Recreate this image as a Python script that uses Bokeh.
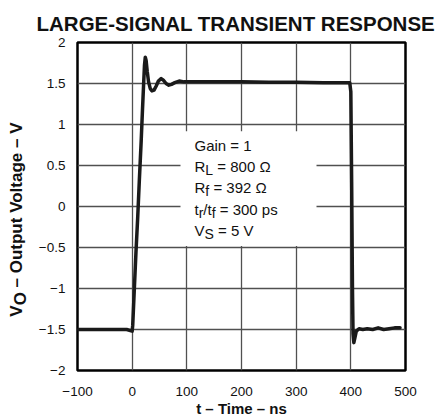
import math
from bokeh.plotting import figure
from bokeh.layouts import row
from bokeh.models import FixedTicker, BoxAnnotation, ColumnDataSource, Range1d
from bokeh.embed import file_html
from bokeh.resources import INLINE
from bokeh.core.properties import value

# ---------------- data ----------------
title_text = "LARGE-SIGNAL TRANSIENT RESPONSE"
x_label_text = "t – Time – ns"
y_label_parts = [("V", False), ("O", True), (" – Output Voltage – V", False)]

x_ticks = [-100, 0, 100, 200, 300, 400, 500]
x_tick_labels = ["−100", "0", "100", "200", "300", "400", "500"]
y_ticks = [-2, -1.5, -1, -0.5, 0, 0.5, 1, 1.5, 2]
y_tick_labels = ["−2", "−1.5", "−1", "−0.5", "0", "0.5", "1", "1.5", "2"]

time_ns = [-100, -50, -10, 0, 1, 4, 7, 10, 13, 16.5, 19, 21, 22.5, 24, 25.5,
           27.5, 30, 33, 36, 40, 44, 48, 53, 57, 62, 67, 72, 78, 86, 95, 110,
           150, 200, 250, 300, 350, 390, 398, 400, 401.5, 403, 404, 405.5,
           407.5, 410, 415, 422, 430, 440, 450, 460, 470, 480, 490]
vout = [-1.5, -1.5, -1.5, -1.52, -1.45, -1.0, -0.55, -0.15, 0.3, 0.8, 1.2,
        1.5, 1.72, 1.82, 1.78, 1.65, 1.52, 1.44, 1.41, 1.42, 1.47, 1.53, 1.56,
        1.54, 1.50, 1.48, 1.49, 1.51, 1.53, 1.52, 1.52, 1.52, 1.52, 1.515,
        1.515, 1.51, 1.51, 1.51, 1.4, 0.3, -1.0, -1.55, -1.66, -1.6, -1.52,
        -1.49, -1.5, -1.49, -1.5, -1.48, -1.5, -1.49, -1.48, -1.48]

# conditions box: list of lines, each a list of (text, is_subscript)
conditions = [
    [("Gain = 1", False)],
    [("R", False), ("L", True), (" = 800 Ω", False)],
    [("R", False), ("f", True), (" = 392 Ω", False)],
    [("t", False), ("r", True), ("/t", False), ("f", True), (" = 300 ps", False)],
    [("V", False), ("S", True), (" = 5 V", False)],
]

# ---------------- styling / layout ----------------
FONT = "Liberation Sans"
MAIN_PX = 15
SUB_PX = 14
LINE_STEP_PX = 21.3
TEXT_COLOR = "#111111"

PAGE_W, PAGE_H = 437, 419
LABEL_W = 30                      # width of the strip holding the y label
X0, X1, Y0, Y1 = -100, 500, -2, 2
FRAME_W, FRAME_H = 328, 329
BL, BR, BT, BB = 77, 32, 42, 48   # page-pixel borders around the frame
DX = (X1 - X0) / FRAME_W
DY = (Y1 - Y0) / FRAME_H

ARIAL = {'G': 778, 'a': 556, 'i': 222, 'n': 556, ' ': 278, '=': 584, '1': 556,
         'R': 722, 'L': 556, '8': 556, '0': 556, 'Ω': 768, 'f': 278, '3': 556,
         '9': 556, '2': 556, 't': 278, 'r': 333, '/': 278, 'p': 556, 's': 500,
         'V': 667, 'S': 667, '5': 556, 'O': 778}
ARIAL_BOLD = {'V': 667, 'O': 778, ' ': 278, '–': 556, 'u': 611, 't': 333,
              'p': 611, 'o': 611, 'l': 278, 'a': 556, 'g': 611, 'e': 556}


def text_w(s, px, table=ARIAL):
    return sum(table.get(c, 556) for c in s) * px / 1000.0


def px_x(px):   # page pixel x -> data x
    return X0 + (px - BL) * DX


def px_y(py):   # page pixel y -> data y
    return Y1 - (py - BT) * DY


H = BT + FRAME_H + BB

p = figure(width=PAGE_W - LABEL_W, height=H,
           x_range=(X0, X1), y_range=(Y0, Y1),
           output_backend="svg", toolbar_location=None,
           min_border_left=BL - LABEL_W, min_border_right=BR,
           min_border_top=BT, min_border_bottom=BB,
           background_fill_color="white", border_fill_color="white")

p.outline_line_color = "black"
p.outline_line_width = 2.5

# title
p.title.text = title_text
p.title.text_font = FONT
p.title.text_font_size = "20.5px"
p.title.text_font_style = "bold"
p.title.text_color = TEXT_COLOR
p.title.align = "left"
p.title.offset = 36 - BL
p.title.standoff = 16

for ax in (p.xaxis[0], p.yaxis[0]):
    ax.axis_line_color = None
    ax.major_tick_line_color = None
    ax.minor_tick_line_color = None
    ax.major_label_text_font = FONT
    ax.major_label_text_font_size = "13.5px"
    ax.major_label_text_color = TEXT_COLOR

p.xaxis.ticker = FixedTicker(ticks=x_ticks)
p.xaxis.major_label_overrides = {t: l for t, l in zip(x_ticks, x_tick_labels)}
p.xaxis.major_label_standoff = 10
p.xaxis.axis_label = x_label_text
p.xaxis.axis_label_text_font = FONT
p.xaxis.axis_label_text_font_size = "15px"
p.xaxis.axis_label_text_font_style = "bold"
p.xaxis.axis_label_text_color = TEXT_COLOR
p.xaxis.axis_label_standoff = 1

p.yaxis.ticker = FixedTicker(ticks=y_ticks)
p.yaxis.major_label_overrides = {t: l for t, l in zip(y_ticks, y_tick_labels)}
p.yaxis.major_label_standoff = 6

p.xgrid.ticker = FixedTicker(ticks=x_ticks)
p.ygrid.ticker = FixedTicker(ticks=y_ticks)
for g in (p.xgrid[0], p.ygrid[0]):
    g.grid_line_color = "#505050"
    g.grid_line_width = 1.3

# white box behind the conditions text (hides grid lines)
box = BoxAnnotation(left=px_x(180), right=px_x(316), bottom=px_y(246),
                    top=px_y(131), fill_color="white", fill_alpha=1.0,
                    line_color=None, level="underlay")
p.add_layout(box)

# waveform
p.line(time_ns, vout, line_width=3.5, line_color="#1a1a1a",
       line_join="round", line_cap="round")

# conditions text
anchor_x, anchor_y = px_x(194), px_y(145)
main = dict(x=[], y=[], text=[], xo=[], yo=[])
sub = dict(x=[], y=[], text=[], xo=[], yo=[])
for i, line in enumerate(conditions):
    xo = 0.0
    for txt, is_sub in line:
        px = SUB_PX if is_sub else MAIN_PX
        stripped = txt.lstrip(" ")
        lead = len(txt) - len(stripped)
        xo += lead * text_w(" ", px)
        d = sub if is_sub else main
        d["x"].append(anchor_x)
        d["y"].append(anchor_y)
        d["text"].append(stripped)
        d["xo"].append(xo)
        d["yo"].append(i * LINE_STEP_PX + (3.5 if is_sub else 0))
        xo += text_w(stripped, px)

p.text(x="x", y="y", text="text", x_offset="xo", y_offset="yo",
       source=ColumnDataSource(main), text_font=value(FONT),
       text_font_size=f"{MAIN_PX}px", text_baseline="middle",
       text_align="left", text_color=TEXT_COLOR)
p.text(x="x", y="y", text="text", x_offset="xo", y_offset="yo",
       source=ColumnDataSource(sub), text_font=value(FONT),
       text_font_size=f"{SUB_PX}px", text_baseline="middle",
       text_align="left", text_color=TEXT_COLOR)

# ---------------- y-axis label strip (rotated text with subscript) ----------
# In a row, this strip's frame is aligned with the main plot's frame,
# so its y data units are page pixels measured up from the frame bottom.
lf = figure(width=LABEL_W, height=H,
            x_range=Range1d(0, LABEL_W), y_range=Range1d(0, FRAME_H),
            output_backend="svg", toolbar_location=None,
            x_axis_type=None, y_axis_type=None,
            min_border_left=0, min_border_right=0, min_border_top=0,
            min_border_bottom=0, outline_line_color=None,
            background_fill_color="white", border_fill_color="white")
lf.grid.visible = False


def strip_y(page_y):   # page pixel y -> strip data y
    return (BT + FRAME_H) - page_y


YL_PX = 17
yl = dict(x=[], y=[], text=[])
pos = 317.0           # page y where the label starts (bottom)
for txt, is_sub in y_label_parts:
    stripped = txt.lstrip(" ")
    pos -= (len(txt) - len(stripped)) * text_w(" ", YL_PX, ARIAL_BOLD)
    yl["x"].append(16 + (3.5 if is_sub else 0))
    yl["y"].append(strip_y(pos))
    yl["text"].append(stripped)
    pos -= text_w(stripped, YL_PX, ARIAL_BOLD)

lf.text(x="x", y="y", text="text", source=ColumnDataSource(yl), angle=math.pi / 2,
        text_font=value(FONT), text_font_size=f"{YL_PX}px",
        text_font_style="bold", text_baseline="middle", text_align="left",
        text_color=TEXT_COLOR)

layout = row(lf, p, spacing=0)
open("out.html", "w").write(file_html(layout, INLINE))
